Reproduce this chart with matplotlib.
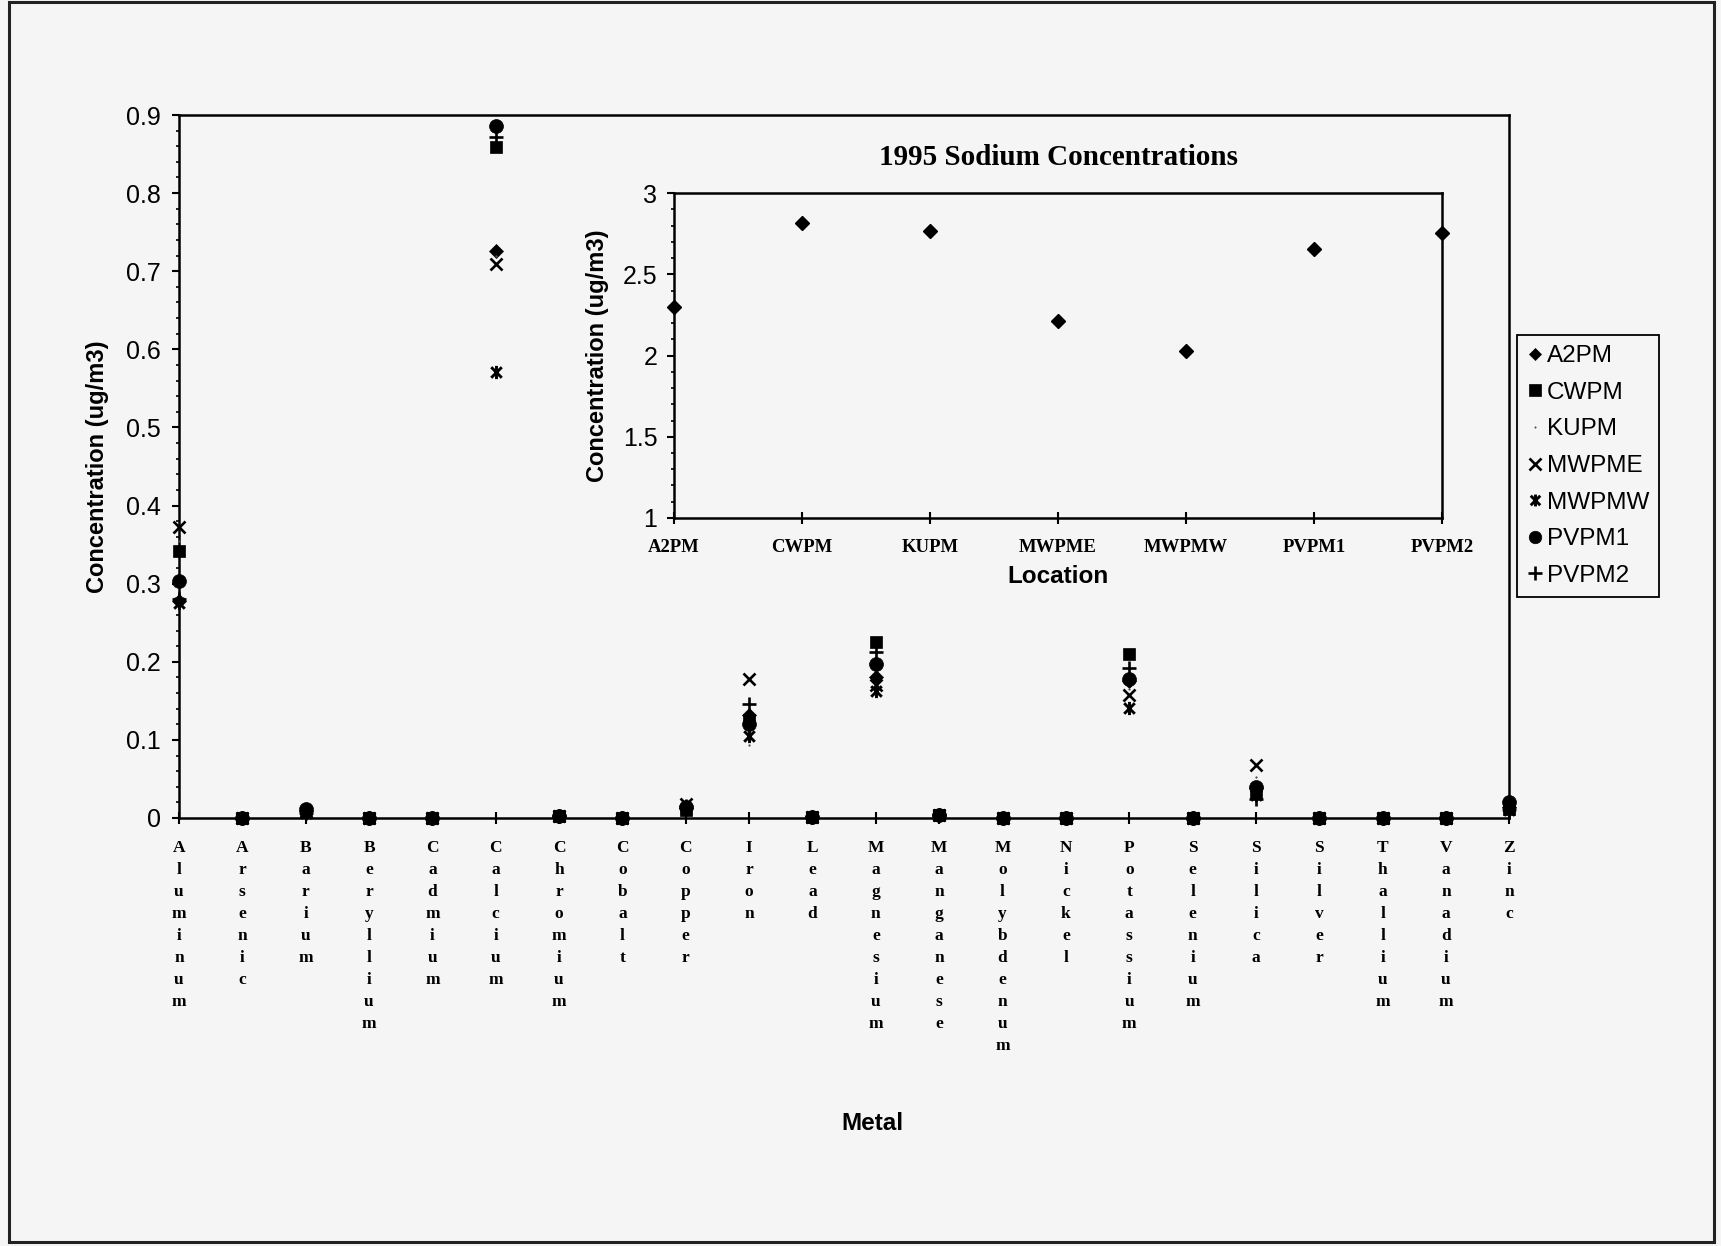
import matplotlib
matplotlib.use("Agg")
import matplotlib.pyplot as plt
from matplotlib.path import Path
from matplotlib.patches import Rectangle
import numpy as np

# ---------------- data ----------------
metals = ["Aluminum", "Arsenic", "Barium", "Beryllium", "Cadmium", "Calcium",
          "Chromium", "Cobalt", "Copper", "Iron", "Lead", "Magnesium",
          "Manganese", "Molybdenum", "Nickel", "Potassium", "Selenium",
          "Silica", "Silver", "Thallium", "Vanadium", "Zinc"]

series_names = ["A2PM", "CWPM", "KUPM", "MWPME", "MWPMW", "PVPM1", "PVPM2"]

a2pm  = [0.278, 0.0, 0.009, 0.0, 0.0, 0.726, 0.002, 0.0, 0.013, 0.132, 0.001, 0.180,
         0.004, 0.0, 0.0005, 0.175, 0.0, 0.038, 0.0, 0.0, 0.0, 0.014]
cwpm  = [0.342, 0.0, 0.008, 0.0, 0.0, 0.859, 0.002, 0.0, 0.010, 0.125, 0.001, 0.225,
         0.004, 0.0, 0.0005, 0.210, 0.0, 0.033, 0.0, 0.0, 0.0, 0.012]
kupm  = [0.355, 0.0, 0.007, 0.0, 0.0, 0.720, 0.002, 0.0, 0.022, 0.093, 0.001, 0.190,
         0.004, 0.0, 0.0005, 0.165, 0.0, 0.052, 0.0, 0.0, 0.0, 0.016]
mwpme = [0.372, 0.0, 0.008, 0.0, 0.0, 0.709, 0.002, 0.0, 0.018, 0.178, 0.001, 0.170,
         0.004, 0.0, 0.0005, 0.157, 0.0, 0.068, 0.0, 0.0, 0.0, 0.015]
mwpmw = [0.275, 0.0, 0.006, 0.0, 0.0, 0.571, 0.002, 0.0, 0.012, 0.105, 0.001, 0.163,
         0.004, 0.0, 0.0005, 0.141, 0.0, 0.030, 0.0, 0.0, 0.0, 0.010]
pvpm1 = [0.303, 0.0, 0.011, 0.0, 0.0, 0.886, 0.002, 0.0, 0.014, 0.120, 0.001, 0.197,
         0.004, 0.0, 0.0005, 0.178, 0.0, 0.040, 0.0, 0.0, 0.0, 0.021]
pvpm2 = [0.280, 0.0, 0.007, 0.0, 0.0, 0.872, 0.002, 0.0, 0.016, 0.146, 0.001, 0.212,
         0.004, 0.0, 0.0005, 0.192, 0.0, 0.024, 0.0, 0.0, 0.0, 0.012]

main_yticks = [0, 0.1, 0.2, 0.3, 0.4, 0.5, 0.6, 0.7, 0.8, 0.9]
main_yticklabels = ["0", "0.1", "0.2", "0.3", "0.4", "0.5", "0.6", "0.7", "0.8", "0.9"]

locations = ["A2PM", "CWPM", "KUPM", "MWPME", "MWPMW", "PVPM1", "PVPM2"]
sodium = [2.30, 2.816, 2.765, 2.213, 2.027, 2.654, 2.755]
inset_yticks = [1, 1.5, 2, 2.5, 3]
inset_yticklabels = ["1", "1.5", "2", "2.5", "3"]

# ---------------- style ----------------
BG = "#f5f5f5"
SANS = ["Liberation Sans", "DejaVu Sans"]
SERIF = ["Liberation Serif", "DejaVu Serif"]

star_path = Path([(-1, -1), (1, 1), (-1, 1), (1, -1), (0, -1.25), (0, 1.25)],
                 [Path.MOVETO, Path.LINETO, Path.MOVETO, Path.LINETO,
                  Path.MOVETO, Path.LINETO])

styles = {
    "A2PM":  dict(marker="D", ms=7.3, mew=0.5),
    "CWPM":  dict(marker="s", ms=9.2, mew=0.5),
    "KUPM":  dict(marker=".", ms=2.5, mew=0.3, color="#555555"),
    "MWPME": dict(marker="x", ms=9, mew=1.9),
    "MWPMW": dict(marker=star_path, ms=9.5, mew=2.1),
    "PVPM1": dict(marker="o", ms=10, mew=0.5),
    "PVPM2": dict(marker="+", ms=10.5, mew=1.9),
}

fig = plt.figure(figsize=(17.21, 12.46), dpi=100, facecolor=BG)

# outer frame
fig.patches.append(Rectangle((0.005, 0.003), 0.991, 0.995, transform=fig.transFigure,
                             fill=False, edgecolor="#222222", linewidth=2.2))

# ---------------- main axes ----------------
ax = fig.add_axes([0.104, 0.3435, 0.773, 0.5642], facecolor=BG)
x = np.arange(len(metals))
data = [a2pm, cwpm, kupm, mwpme, mwpmw, pvpm1, pvpm2]
handles = []
for name, vals in zip(series_names, data):
    st = dict(styles[name])
    color = st.pop("color", "black")
    h, = ax.plot(x, vals, linestyle="none", color=color, markerfacecolor=color,
                 markeredgecolor=color, clip_on=False, label=name, zorder=3,
                 marker=st["marker"], markersize=st["ms"], markeredgewidth=st["mew"])
    handles.append(h)

ax.set_xlim(0, len(metals) - 1)
ax.set_ylim(0, 0.9)
ax.set_yticks(main_yticks)
ax.set_yticklabels(main_yticklabels, fontfamily=SANS, fontsize=18)
ax.set_yticks(np.arange(0, 0.9001, 0.02), minor=True)
ax.tick_params(axis="y", which="major", direction="out", length=5, width=1.5, pad=8)
ax.tick_params(axis="y", which="minor", direction="out", length=2.5, width=1.2)
ax.set_xticks(x)
ax.set_xticklabels(["\n".join(m) for m in metals], fontfamily=SERIF,
                   fontweight="bold", fontsize=12.5, linespacing=1.5, va="top")
ax.tick_params(axis="x", which="major", direction="inout", length=9, width=1.5, pad=11)
for sp in ax.spines.values():
    sp.set_linewidth(1.8)
ax.set_ylabel("Concentration (ug/m3)", fontfamily=SANS, fontweight="bold",
              fontsize=17, labelpad=12)
fig.text(0.507, 0.0985, "Metal", fontfamily=SANS, fontweight="bold",
         fontsize=17.5, ha="center", va="center")

leg = fig.legend(handles=handles, loc="upper left", bbox_to_anchor=(0.8815, 0.7311),
                 bbox_transform=fig.transFigure, frameon=True, fancybox=False,
                 edgecolor="black", facecolor=BG, framealpha=1,
                 prop=dict(family=SANS, size=17.5), handlelength=0.6,
                 handletextpad=0.2, labelspacing=0.6, borderpad=0.42,
                 borderaxespad=0, markerscale=0.9)
leg.get_frame().set_linewidth(1.3)

# ---------------- inset ----------------
ins = fig.add_axes([0.3916, 0.5843, 0.4464, 0.2607], facecolor=BG)
xi = np.arange(len(locations))
ins.plot(xi, sodium, linestyle="none", marker="D", markersize=7.5, color="black",
         clip_on=False, zorder=3)
ins.set_xlim(0, len(locations) - 1)
ins.set_ylim(1, 3)
ins.set_yticks(inset_yticks)
ins.set_yticklabels(inset_yticklabels, fontfamily=SANS, fontsize=18)
ins.set_yticks(np.arange(1, 3.001, 0.1), minor=True)
ins.tick_params(axis="y", which="major", direction="out", length=5, width=1.5, pad=7)
ins.tick_params(axis="y", which="minor", direction="out", length=2.5, width=1.2)
ins.set_xticks(xi)
ins.set_xticklabels(locations, fontfamily=SERIF, fontweight="bold", fontsize=13.5)
ins.tick_params(axis="x", which="major", direction="inout", length=9, width=1.5, pad=11)
for sp in ins.spines.values():
    sp.set_linewidth(1.8)
ins.set_title("1995 Sodium Concentrations", fontfamily=SERIF, fontweight="bold",
              fontsize=21, pad=20)
ins.set_ylabel("Concentration (ug/m3)", fontfamily=SANS, fontweight="bold",
               fontsize=17, labelpad=10)
ins.set_xlabel("Location", fontfamily=SANS, fontweight="bold", fontsize=17.5, labelpad=6)

fig.savefig("out.png", dpi=100, facecolor=BG)
